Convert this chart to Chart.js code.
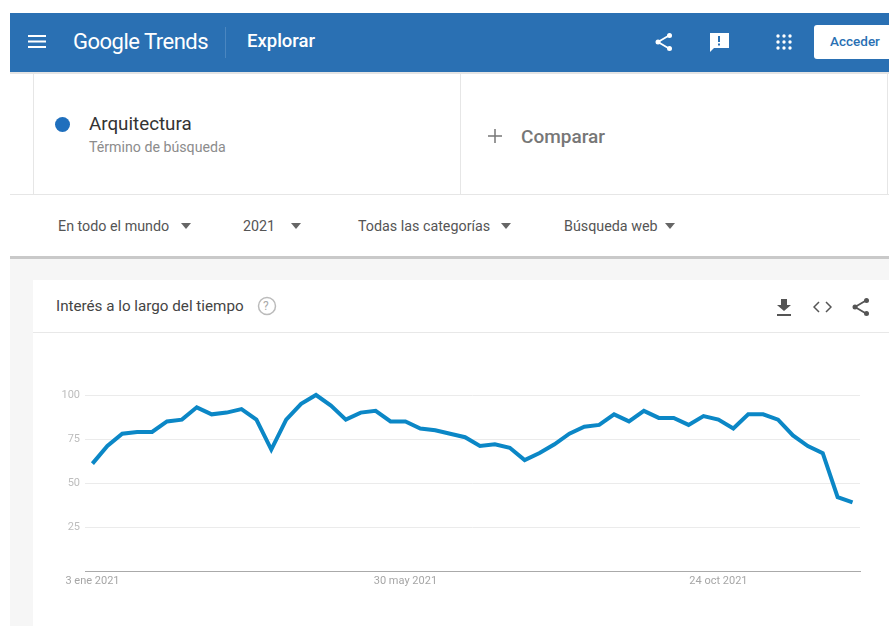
<!DOCTYPE html>
<html lang="es">
<head>
<meta charset="utf-8">
<title>Google Trends - Explorar</title>
<script src="https://cdn.jsdelivr.net/npm/chart.js@4/dist/chart.umd.min.js"></script>
<style>
html, body { margin: 0; padding: 0; background: #fff; overflow: hidden; }
body { width: 889px; height: 626px; position: relative; font-family: Roboto, sans-serif; }
.box { position: absolute; }
.txt { position: absolute; white-space: nowrap; line-height: 1; }
svg { position: absolute; }
#zonaGrafico { position: absolute; left: 33px; top: 333px; width: 856px; height: 293px; }
</style>
</head>
<body>
<!-- fondo y paneles -->
<div class="box" style="left:10px;top:13px;width:879px;height:59px;background:#2a70b3"></div>
<div class="box" style="left:10px;top:72px;width:879px;height:2px;background:#e4e4e4"></div>
<div class="box" style="left:33px;top:74px;width:1px;height:121px;background:#e6e6e6"></div>
<div class="box" style="left:460px;top:74px;width:1px;height:121px;background:#e6e6e6"></div>
<div class="box" style="left:887px;top:74px;width:1px;height:121px;background:#e6e6e6"></div>
<div class="box" style="left:10px;top:194px;width:879px;height:1px;background:#e6e6e6"></div>
<div class="box" style="left:10px;top:258px;width:879px;height:368px;background:#f6f6f6"></div>
<div class="box" style="left:10px;top:256px;width:879px;height:3px;background:#c9c9c9"></div>
<div class="box" style="left:33px;top:280px;width:856px;height:346px;background:#fff"></div>
<div class="box" style="left:33px;top:332px;width:856px;height:1px;background:#e8e8e8"></div>

<!-- barra superior -->
<svg style="left:28px;top:35px" width="18" height="13"><path d="M0 1h18M0 6.5h18M0 12h18" stroke="#fff" stroke-width="2"/></svg>
<div class="txt" style="left:73px;top:31px;font-size:22px;color:#fff;letter-spacing:-0.5px">Google Trends</div>
<div class="box" style="left:225px;top:27px;width:1px;height:31px;background:#4a86c0"></div>
<div class="txt" style="left:247px;top:32px;font-size:18.500px;font-weight:500;color:#fff">Explorar</div>
<svg style="left:654px;top:32px" width="20" height="20"><path d="M15 3.5L4 10l11 6.500" fill="none" stroke="#fff" stroke-width="1.800"/><circle cx="15.500" cy="3.500" r="2.500" fill="#fff"/><circle cx="4" cy="10" r="2.500" fill="#fff"/><circle cx="15.500" cy="16.500" r="2.500" fill="#fff"/></svg>
<svg style="left:709px;top:32px" width="20" height="20"><path d="M1 1h19v15H5l-4 4z" fill="#fff"/><path d="M10 4v6M10 11.500v2" stroke="#2a70b3" stroke-width="2"/></svg>
<svg style="left:776px;top:34px" width="16" height="16" fill="#fff"><circle cx="2" cy="2" r="1.700"/><circle cx="8" cy="2" r="1.700"/><circle cx="14" cy="2" r="1.700"/><circle cx="2" cy="8" r="1.700"/><circle cx="8" cy="8" r="1.700"/><circle cx="14" cy="8" r="1.700"/><circle cx="2" cy="14" r="1.700"/><circle cx="8" cy="14" r="1.700"/><circle cx="14" cy="14" r="1.700"/></svg>
<div class="box" style="left:814px;top:25px;width:75px;height:34px;background:#fff;border-radius:3px 0 0 3px"></div>
<div class="txt" style="left:830px;top:35px;font-size:13.500px;font-weight:500;color:#2a70b3">Acceder</div>

<!-- termino de busqueda -->
<div class="box" style="left:55px;top:117px;width:15px;height:15px;border-radius:50%;background:#1f6fbd"></div>
<div class="txt" style="left:89px;top:115px;font-size:18.800px;color:#333">Arquitectura</div>
<div class="txt" style="left:89px;top:140px;font-size:14.200px;color:#8c8c8c">Término de búsqueda</div>
<svg style="left:488px;top:129px" width="14" height="14"><path d="M7 0v14M0 7h14" stroke="#777" stroke-width="1.500"/></svg>
<div class="txt" style="left:521px;top:127px;font-size:19px;font-weight:500;color:#777">Comparar</div>

<!-- filtros -->
<div class="txt" style="left:58px;top:219px;font-size:14.300px;color:#555">En todo el mundo</div>
<svg style="left:181px;top:223px" width="10" height="6"><path d="M0 0h10L5 6z" fill="#666"/></svg>
<div class="txt" style="left:243px;top:219px;font-size:14.300px;color:#555">2021</div>
<svg style="left:291px;top:223px" width="10" height="6"><path d="M0 0h10L5 6z" fill="#666"/></svg>
<div class="txt" style="left:358px;top:219px;font-size:14.300px;color:#555">Todas las categorías</div>
<svg style="left:501px;top:223px" width="10" height="6"><path d="M0 0h10L5 6z" fill="#666"/></svg>
<div class="txt" style="left:564px;top:219px;font-size:14.300px;color:#555">Búsqueda web</div>
<svg style="left:665px;top:223px" width="10" height="6"><path d="M0 0h10L5 6z" fill="#666"/></svg>

<!-- cabecera de la tarjeta -->
<div class="txt" style="left:56px;top:299px;font-size:15.200px;color:#444">Interés a lo largo del tiempo</div>
<svg style="left:257px;top:296px" width="20" height="20"><circle cx="10" cy="10" r="8.500" fill="none" stroke="#bbb" stroke-width="1.500"/></svg>
<div class="txt" style="left:263px;top:300px;font-size:12px;color:#aaa">?</div>
<svg style="left:777px;top:299px" width="14" height="18"><path d="M4 0h6v6h4l-7 6-7-6h4z M0 15h14v2H0z" fill="#555"/></svg>
<svg style="left:813px;top:301px" width="19" height="12"><path d="M6 1L1 6l5 5M13 1l5 5-5 5" fill="none" stroke="#555" stroke-width="1.500"/></svg>
<svg style="left:851px;top:297px" width="20" height="20"><path d="M15 3.500L4 10l11 6.500" fill="none" stroke="#555" stroke-width="1.800"/><circle cx="15.500" cy="3.500" r="2.500" fill="#555"/><circle cx="4" cy="10" r="2.500" fill="#555"/><circle cx="15.500" cy="16.500" r="2.500" fill="#555"/></svg>

<div id="zonaGrafico"><canvas id="grafico" width="856" height="293"></canvas></div>

<script>
const semanas = [
    '3 ene 2021', '10 ene 2021', '17 ene 2021', '24 ene 2021', '31 ene 2021',
    '7 feb 2021', '14 feb 2021', '21 feb 2021', '28 feb 2021',
    '7 mar 2021', '14 mar 2021', '21 mar 2021', '28 mar 2021',
    '4 abr 2021', '11 abr 2021', '18 abr 2021', '25 abr 2021',
    '2 may 2021', '9 may 2021', '16 may 2021', '23 may 2021', '30 may 2021',
    '6 jun 2021', '13 jun 2021', '20 jun 2021', '27 jun 2021',
    '4 jul 2021', '11 jul 2021', '18 jul 2021', '25 jul 2021',
    '1 ago 2021', '8 ago 2021', '15 ago 2021', '22 ago 2021', '29 ago 2021',
    '5 sep 2021', '12 sep 2021', '19 sep 2021', '26 sep 2021',
    '3 oct 2021', '10 oct 2021', '17 oct 2021', '24 oct 2021', '31 oct 2021',
    '7 nov 2021', '14 nov 2021', '21 nov 2021', '28 nov 2021',
    '5 dic 2021', '12 dic 2021', '19 dic 2021', '26 dic 2021'
];
const interes = [
    61, 71, 78, 79, 79, 85, 86, 93, 89, 90, 92, 86, 69,
    86, 95, 100, 94, 86, 90, 91, 85, 85, 81, 80, 78, 76,
    71, 72, 70, 63, 67, 72, 78, 82, 83, 89, 85, 91, 87,
    87, 83, 88, 86, 81, 89, 89, 86, 77, 71, 67, 42, 39
];
const etiquetasX = ['3 ene 2021', '30 may 2021', '24 oct 2021'];
const etiquetasY = [25, 50, 75, 100];

new Chart(document.getElementById('grafico').getContext('2d'), {
    type: 'line',
    data: {
        labels: semanas,
        datasets: [{
            label: 'Arquitectura',
            data: interes,
            borderColor: '#0b87c6',
            borderWidth: 4,
            pointRadius: 0,
            tension: 0,
            clip: false
        }]
    },
    options: {
        responsive: false,
        animation: false,
        plugins: {
            legend: { display: false },
            tooltip: { enabled: false }
        },
        layout: {
            padding: { top: 62, right: 29, bottom: 0, left: 0 }
        },
        scales: {
            x: {
                offset: true,
                grid: { display: false, tickLength: 0 },
                border: { color: '#aaaaaa', width: 1 },
                afterFit: (escala) => { escala.height = 55; },
                ticks: {
                    autoSkip: false,
                    maxRotation: 0,
                    padding: 4,
                    color: '#a6a6a6',
                    font: { family: 'Roboto', size: 11 },
                    callback: function (valor) {
                        const texto = this.getLabelForValue(valor);
                        return etiquetasX.includes(texto) ? texto : '';
                    }
                }
            },
            y: {
                min: 0,
                max: 100,
                afterFit: (escala) => { escala.width = 52; },
                grid: { color: '#ebebeb', drawTicks: false },
                border: { display: false },
                ticks: {
                    stepSize: 25,
                    padding: 5,
                    color: '#bdbdbd',
                    font: { family: 'Roboto', size: 11 },
                    callback: (valor) => etiquetasY.includes(valor) ? valor : ''
                }
            }
        }
    }
});
</script>
</body>
</html>
